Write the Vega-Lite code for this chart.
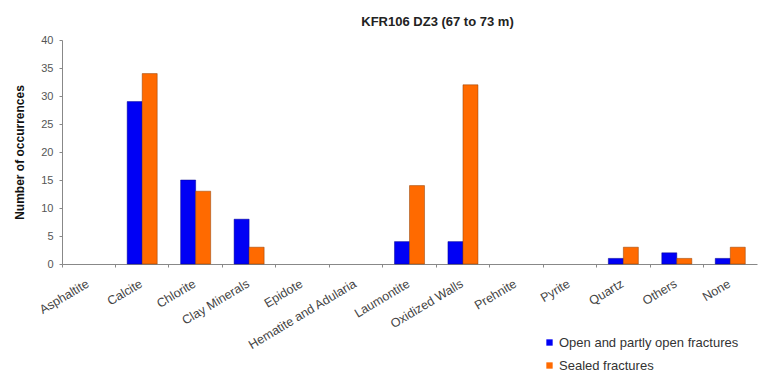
{
  "$schema": "https://vega.github.io/schema/vega-lite/v6.json",
  "width": 695,
  "height": 224,
  "autosize": "none",
  "padding": {"left": 62, "top": 40, "right": 23, "bottom": 116},
  "background": "white",
  "title": {"text": "KFR106 DZ3 (67 to 73 m)", "font": "Liberation Sans", "fontSize": 13, "fontWeight": "bold", "color": "#222", "anchor": "middle", "dx": 28, "offset": 5},
  "data": {"values": [
    {"mineral": "Asphaltite", "type": "Open and partly open fractures", "count": 0},
    {"mineral": "Asphaltite", "type": "Sealed fractures", "count": 0},
    {"mineral": "Calcite", "type": "Open and partly open fractures", "count": 29},
    {"mineral": "Calcite", "type": "Sealed fractures", "count": 34},
    {"mineral": "Chlorite", "type": "Open and partly open fractures", "count": 15},
    {"mineral": "Chlorite", "type": "Sealed fractures", "count": 13},
    {"mineral": "Clay Minerals", "type": "Open and partly open fractures", "count": 8},
    {"mineral": "Clay Minerals", "type": "Sealed fractures", "count": 3},
    {"mineral": "Epidote", "type": "Open and partly open fractures", "count": 0},
    {"mineral": "Epidote", "type": "Sealed fractures", "count": 0},
    {"mineral": "Hematite and Adularia", "type": "Open and partly open fractures", "count": 0},
    {"mineral": "Hematite and Adularia", "type": "Sealed fractures", "count": 0},
    {"mineral": "Laumontite", "type": "Open and partly open fractures", "count": 4},
    {"mineral": "Laumontite", "type": "Sealed fractures", "count": 14},
    {"mineral": "Oxidized Walls", "type": "Open and partly open fractures", "count": 4},
    {"mineral": "Oxidized Walls", "type": "Sealed fractures", "count": 32},
    {"mineral": "Prehnite", "type": "Open and partly open fractures", "count": 0},
    {"mineral": "Prehnite", "type": "Sealed fractures", "count": 0},
    {"mineral": "Pyrite", "type": "Open and partly open fractures", "count": 0},
    {"mineral": "Pyrite", "type": "Sealed fractures", "count": 0},
    {"mineral": "Quartz", "type": "Open and partly open fractures", "count": 1},
    {"mineral": "Quartz", "type": "Sealed fractures", "count": 3},
    {"mineral": "Others", "type": "Open and partly open fractures", "count": 2},
    {"mineral": "Others", "type": "Sealed fractures", "count": 1},
    {"mineral": "None", "type": "Open and partly open fractures", "count": 1},
    {"mineral": "None", "type": "Sealed fractures", "count": 3}
  ]},
  "mark": {"type": "bar", "strokeWidth": 0.8},
  "encoding": {
    "x": {
      "field": "mineral", "type": "nominal", "sort": null,
      "scale": {"paddingInner": 0, "paddingOuter": 0},
      "axis": {
        "title": null, "labelAngle": -31, "labelAlign": "right", "labelBaseline": "top",
        "labelFont": "Liberation Sans", "labelFontSize": 12.5, "labelColor": "#444",
        "bandPosition": 0, "labelOffset": -4, "labelPadding": 10,
        "domainColor": "#888", "tickColor": "#888", "tickSize": 3, "labelOverlap": false, "labelLimit": 300
      }
    },
    "xOffset": {"field": "type", "type": "nominal", "scale": {"paddingInner": 0, "paddingOuter": 0.78}},
    "y": {
      "field": "count", "type": "quantitative",
      "scale": {"domain": [0, 40]},
      "axis": {
        "title": "Number of occurrences", "titleFont": "Liberation Sans", "titleFontSize": 12, "titleFontWeight": "bold", "titleColor": "#111", "titlePadding": 14,
        "values": [0, 5, 10, 15, 20, 25, 30, 35, 40], "grid": false,
        "labelFont": "Liberation Sans", "labelFontSize": 11, "labelColor": "#555",
        "domainColor": "#888", "tickColor": "#888", "tickSize": 3, "labelPadding": 6
      }
    },
    "color": {
      "field": "type", "type": "nominal",
      "scale": {"domain": ["Open and partly open fractures", "Sealed fractures"], "range": ["#0000F5", "#FF6A00"]},
      "legend": {
        "title": null, "orient": "none", "legendX": 481, "legendY": 296,
        "symbolType": "square", "symbolSize": 40, "symbolStrokeWidth": 0,
        "labelFont": "Liberation Sans", "labelFontSize": 13, "labelColor": "#333", "labelLimit": 300,
        "rowPadding": 9, "labelOffset": 3
      }
    },
    "stroke": {
      "field": "type", "type": "nominal",
      "scale": {"domain": ["Open and partly open fractures", "Sealed fractures"], "range": ["#00008a", "#8a3a00"]},
      "legend": null
    },
    "strokeOpacity": {"condition": {"test": "datum.count == 0", "value": 0}, "value": 0.6}
  },
  "config": {"view": {"stroke": null}}
}
